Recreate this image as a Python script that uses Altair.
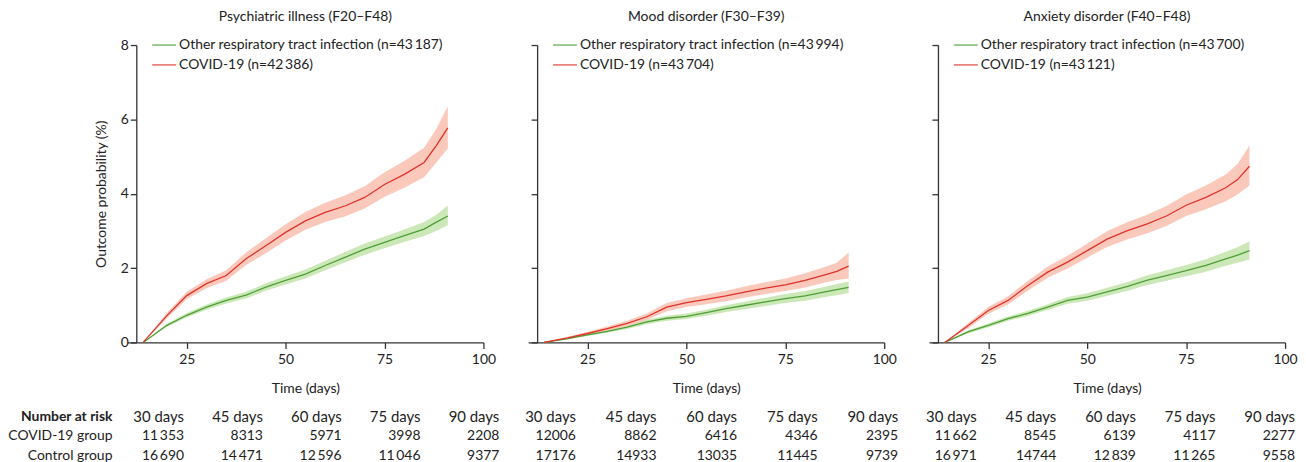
import altair as alt
import pandas as pd

FONT = "Lato"
TXT = "#222222"
GREEN_LINE = "#4d9f35"
RED_LINE = "#e0322a"
GREEN_BAND = "#c7e6b0"
RED_BAND = "#f9c0af"

days = [14, 20, 25, 30, 35, 40, 45, 50, 55, 60, 65, 70, 75, 80, 85, 88, 91]

# Panel 1: psychiatric illness
psy_covid = [0, 0.72, 1.26, 1.58, 1.80, 2.25, 2.60, 2.96, 3.27, 3.50, 3.67, 3.90, 4.25, 4.52, 4.84, 5.28, 5.77]
psy_covid_lo = [0, 0.65, 1.16, 1.46, 1.66, 2.08, 2.40, 2.74, 3.03, 3.24, 3.39, 3.60, 3.92, 4.16, 4.44, 4.83, 5.22]
psy_covid_hi = [0, 0.80, 1.36, 1.70, 1.94, 2.42, 2.80, 3.18, 3.51, 3.76, 3.95, 4.20, 4.58, 4.88, 5.24, 5.73, 6.35]
psy_other = [0, 0.46, 0.73, 0.95, 1.13, 1.27, 1.49, 1.67, 1.84, 2.07, 2.29, 2.51, 2.69, 2.87, 3.05, 3.23, 3.40]
psy_other_lo = [0, 0.42, 0.67, 0.88, 1.05, 1.18, 1.39, 1.56, 1.72, 1.94, 2.15, 2.36, 2.53, 2.70, 2.86, 3.00, 3.15]
psy_other_hi = [0, 0.50, 0.79, 1.02, 1.21, 1.36, 1.59, 1.78, 1.96, 2.20, 2.43, 2.66, 2.85, 3.04, 3.24, 3.43, 3.68]

# Panel 2: mood disorder
mood_covid = [0, 0.12, 0.24, 0.37, 0.51, 0.69, 0.95, 1.07, 1.16, 1.25, 1.36, 1.46, 1.55, 1.67, 1.82, 1.91, 2.05]
mood_covid_lo = [0, 0.09, 0.19, 0.31, 0.44, 0.60, 0.84, 0.95, 1.03, 1.11, 1.21, 1.30, 1.38, 1.48, 1.61, 1.68, 1.72]
mood_covid_hi = [0, 0.15, 0.29, 0.43, 0.58, 0.78, 1.06, 1.19, 1.29, 1.39, 1.51, 1.62, 1.72, 1.86, 2.03, 2.14, 2.42]
mood_other = [0, 0.10, 0.20, 0.30, 0.41, 0.55, 0.65, 0.70, 0.80, 0.91, 1.00, 1.09, 1.18, 1.25, 1.36, 1.42, 1.48]
mood_other_lo = [0, 0.08, 0.17, 0.26, 0.36, 0.49, 0.58, 0.63, 0.72, 0.82, 0.90, 0.98, 1.06, 1.12, 1.22, 1.27, 1.33]
mood_other_hi = [0, 0.12, 0.23, 0.34, 0.46, 0.61, 0.72, 0.78, 0.88, 1.00, 1.10, 1.20, 1.30, 1.38, 1.50, 1.57, 1.64]

# Panel 3: anxiety disorder
anx_covid = [0, 0.46, 0.86, 1.13, 1.53, 1.89, 2.16, 2.47, 2.78, 3.00, 3.18, 3.40, 3.69, 3.90, 4.16, 4.38, 4.74]
anx_covid_lo = [0, 0.39, 0.77, 1.02, 1.40, 1.74, 1.99, 2.28, 2.57, 2.77, 2.93, 3.13, 3.40, 3.58, 3.80, 3.98, 4.22]
anx_covid_hi = [0, 0.53, 0.95, 1.24, 1.66, 2.04, 2.33, 2.66, 2.99, 3.23, 3.43, 3.67, 3.98, 4.22, 4.52, 4.80, 5.30]
anx_other = [0, 0.29, 0.46, 0.64, 0.78, 0.95, 1.13, 1.22, 1.36, 1.50, 1.67, 1.80, 1.93, 2.07, 2.25, 2.35, 2.47]
anx_other_lo = [0, 0.25, 0.41, 0.58, 0.71, 0.87, 1.04, 1.12, 1.25, 1.38, 1.54, 1.66, 1.78, 1.90, 2.06, 2.14, 2.23]
anx_other_hi = [0, 0.33, 0.51, 0.70, 0.85, 1.03, 1.22, 1.32, 1.47, 1.62, 1.80, 1.94, 2.08, 2.24, 2.44, 2.56, 2.72]

titles = ["Psychiatric illness (F20\u2013F48)", "Mood disorder (F30\u2013F39)", "Anxiety disorder (F40\u2013F48)"]
n_other = ["43\u2009187", "43\u2009994", "43\u2009700"]
n_covid = ["42\u2009386", "43\u2009704", "43\u2009121"]

risk_days = [30, 45, 60, 75, 90]
risk_head = ["30 days", "45 days", "60 days", "75 days", "90 days"]
risk_covid = [
    ["11\u2009353", "8313", "5971", "3998", "2208"],
    ["12006", "8862", "6416", "4346", "2395"],
    ["11\u2009662", "8545", "6139", "4117", "2277"],
]
risk_control = [
    ["16\u2009690", "14\u2009471", "12\u2009596", "11\u2009046", "9377"],
    ["17176", "14933", "13035", "11445", "9739"],
    ["16\u2009971", "14744", "12\u2009839", "11\u2009265", "9558"],
]
row_labels = ["Number at risk", "COVID-19 group", "Control group"]

W, H = 358, 299
FS = 14


def panel(i, other, other_lo, other_hi, covid, covid_lo, covid_hi, col_range):
    first = i == 0
    lab_o = f"Other respiratory tract infection (n={n_other[i]})"
    lab_c = f"COVID-19 (n={n_covid[i]})"
    rows = []
    for d, v, lo, hi in zip(days, other, other_lo, other_hi):
        rows.append(dict(day=d, val=v, lo=lo, hi=hi, grp=lab_o, g="o"))
    for d, v, lo, hi in zip(days, covid, covid_lo, covid_hi):
        rows.append(dict(day=d, val=v, lo=lo, hi=hi, grp=lab_c, g="c"))
    df = pd.DataFrame(rows)

    xax = alt.Axis(values=[25, 50, 75, 100], title="Time (days)", tickSize=6, grid=False,
                   labelFlush=False, labelPadding=4, titlePadding=15)
    ykw = dict(values=[0, 2, 4, 6, 8], offset=-9, tickSize=6, grid=False, labels=first)
    if first:
        ykw["title"] = "Outcome probability (%)"
        ykw["titlePadding"] = 12
    else:
        ykw["title"] = ""
    yax = alt.Axis(**ykw)
    xs = alt.Scale(domain=[10, 100], nice=False, zero=False)
    ys = alt.Scale(domain=[0, 8], nice=False)

    base = alt.Chart(df)
    band_o = base.transform_filter(alt.datum.g == "o").mark_area(color=GREEN_BAND, opacity=0.9).encode(
        x=alt.X("day:Q", scale=xs, axis=xax),
        y=alt.Y("lo:Q", scale=ys, axis=yax),
        y2="hi:Q",
    )
    band_c = base.transform_filter(alt.datum.g == "c").mark_area(color=RED_BAND, opacity=0.85).encode(
        x=alt.X("day:Q", scale=xs, axis=xax),
        y=alt.Y("lo:Q", scale=ys, axis=yax),
        y2="hi:Q",
    )
    line = base.mark_line(strokeWidth=1.3).encode(
        x=alt.X("day:Q", scale=xs, axis=xax),
        y=alt.Y("val:Q", scale=ys, axis=yax),
        color=alt.Color("grp:N", scale=alt.Scale(domain=[lab_o, lab_c], range=[GREEN_LINE, RED_LINE]),
                        legend=alt.Legend(orient="none", legendX=24, legendY=-13, title=None,
                                          symbolType="stroke", symbolSize=576, symbolStrokeWidth=1.1,
                                          labelOffset=2, labelFontSize=14, labelColor=TXT, labelFont=FONT,
                                          rowPadding=-2, padding=0, labelLimit=400)),
    )
    plot = alt.layer(band_o, band_c, line)

    xt = alt.X("col:Q", scale=alt.Scale(domain=[30, 90], range=col_range), axis=None)
    yt = alt.Y("row:Q", scale=alt.Scale(domain=[0, 2], range=[374, 413]), axis=None)
    head_df = pd.DataFrame({"col": risk_days, "row": [0] * 5, "txt": risk_head})
    num_df = pd.DataFrame({"col": risk_days * 2, "row": [1] * 5 + [2] * 5,
                           "txt": risk_covid[i] + risk_control[i]})
    head = alt.Chart(head_df).mark_text(align="right", baseline="middle", fontSize=15, color=TXT,
                                        font=FONT).encode(x=xt, y=yt, text="txt:N")
    nums = alt.Chart(num_df).mark_text(align="right", baseline="middle", fontSize=FS, color=TXT,
                                       font=FONT).encode(x=xt, y=yt, text="txt:N")
    tlayers = [head, nums]
    if first:
        lab0 = pd.DataFrame({"row": [0], "txt": [row_labels[0]]})
        lab12 = pd.DataFrame({"row": [1, 2], "txt": row_labels[1:]})
        tlayers.append(alt.Chart(lab0).mark_text(align="right", baseline="middle", fontSize=FS,
                                                 fontWeight="bold", color=TXT, font=FONT).encode(
            x=alt.value(-15), y=yt, text="txt:N"))
        tlayers.append(alt.Chart(lab12).mark_text(align="right", baseline="middle", fontSize=FS,
                                                  color=TXT, font=FONT).encode(
            x=alt.value(-15), y=yt, text="txt:N"))
        anchor = alt.Chart(pd.DataFrame({"a": [0]})).mark_rule(strokeWidth=0, opacity=0).encode(
            x=alt.value(-118), x2=alt.value(-117), y=alt.value(100))
        tlayers.append(anchor)
    table = alt.layer(*tlayers)

    return alt.layer(plot, table).resolve_scale(x="independent", y="independent").properties(
        width=W, height=H,
        title=alt.TitleParams(titles[i], fontSize=FS, fontWeight="normal", font=FONT, color=TXT,
                              anchor="middle", frame="group", offset=8),
    )


p1 = panel(0, psy_other, psy_other_lo, psy_other_hi, psy_covid, psy_covid_lo, psy_covid_hi, [57, 374])
p2 = panel(1, mood_other, mood_other_lo, mood_other_hi, mood_covid, mood_covid_lo, mood_covid_hi, [48, 372])
p3 = panel(2, anx_other, anx_other_lo, anx_other_hi, anx_covid, anx_covid_lo, anx_covid_hi, [48, 368])

chart = alt.hconcat(p1, p2, p3, spacing=45, bounds="flush").resolve_scale(
    color="independent"
).resolve_legend(color="independent").properties(padding={"left": 0, "top": 1, "right": 0, "bottom": 0}).configure_view(
    stroke=None
).configure_axis(
    labelFont=FONT, titleFont=FONT, labelFontSize=FS, titleFontSize=FS, titleFontWeight="normal",
    labelColor=TXT, titleColor=TXT, domainColor="#333333", tickColor="#333333", domainWidth=1.3,
    tickWidth=1.3
).configure_text(font=FONT)

chart.save("out.html", embed_options={"renderer": "svg", "actions": False})
